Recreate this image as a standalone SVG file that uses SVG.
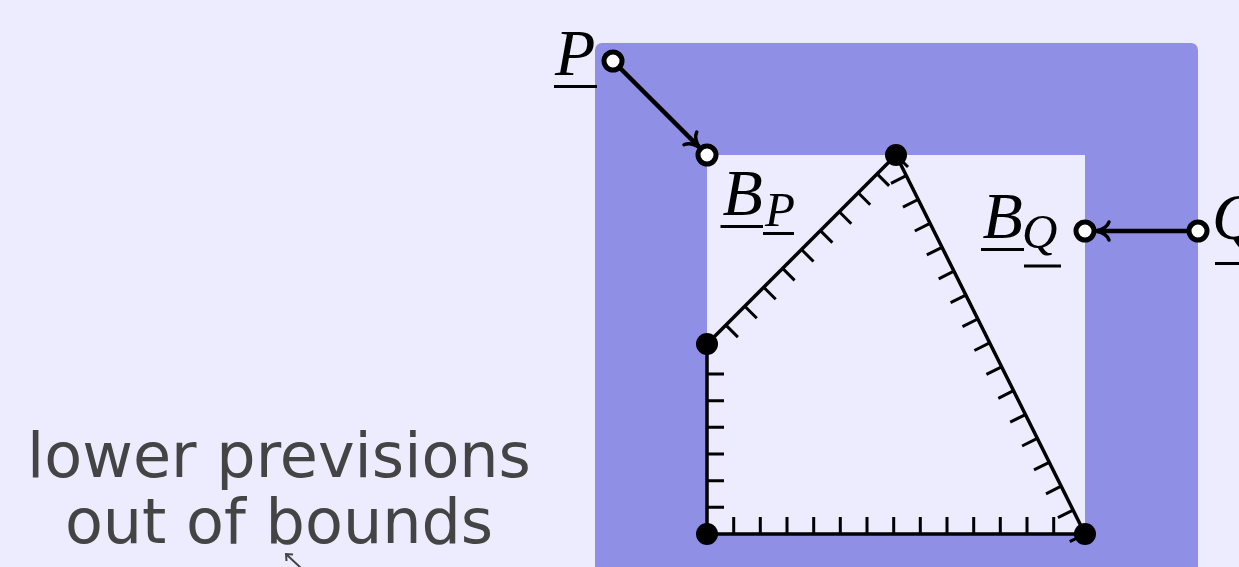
<svg xmlns="http://www.w3.org/2000/svg" width="1239" height="567" viewBox="0 0 1239 567">
  <defs>
    <style>
      .lbl { font-family: "Liberation Serif", "Times New Roman", serif; font-style: italic; fill: #000; }
      .ul { stroke: #000; stroke-width: 3; }
      .tick { stroke: #000; stroke-width: 3; fill: none; }
      .edge { stroke: #000; stroke-width: 3.5; fill: none; stroke-linejoin: round; }
      .open { fill: #fff; stroke: #000; stroke-width: 5; }
      .dot { fill: #000; }
      .conn { stroke: #000; stroke-width: 4.5; fill: none; }
      .note { font-family: "DejaVu Sans", sans-serif; font-size: 62px; fill: #444; text-anchor: middle; }
    </style>
    <marker id="hook" markerUnits="userSpaceOnUse" markerWidth="30" markerHeight="30" refX="0" refY="0" viewBox="-15 -15 30 30" orient="auto" overflow="visible">
      <path d="M-12,-9 C-10,-3 -4,-1 1,0 C-4,1 -10,3 -12,9" fill="none" stroke="#000" stroke-width="3.5" stroke-linecap="round"/>
    </marker>
  </defs>

  <rect x="0" y="0" width="1239" height="567" fill="#EDEBFE"/>

  <g id="bounds">
    <rect x="595" y="43" width="603" height="560" rx="7" fill="#8F8FE6"/>
    <rect x="707" y="155" width="378" height="379" fill="#EDEBFE"/>
  </g>

  <g id="polygon">
    <path class="tick" d="M733.7 534v-17M760.3 534v-17M787 534v-17M813.7 534v-17M840.3 534v-17M867 534v-17M893.7 534v-17M920.3 534v-17M947 534v-17M973.7 534v-17M1000.3 534v-17M1027 534v-17M1053.7 534v-17"/>
    <path class="tick" d="M707 507.3h17M707 480.7h17M707 454h17M707 427.3h17M707 400.7h17M707 374h17"/>
    <path class="tick" d="M725.9 325.1l12 12M744.8 306.2l12 12M763.7 287.3l12 12M782.6 268.4l12 12M801.5 249.5l12 12M820.4 230.6l12 12M839.3 211.7l12 12M858.2 192.8l12 12M877.1 173.9l12 12M896 155l12 12"/>
    <path class="tick" d="M1085 534l-15.2 7.6M1073.1 510.1l-15.2 7.6M1061.2 486.2l-15.2 7.6M1049.2 462.3l-15.2 7.6M1037.3 438.4l-15.2 7.6M1025.4 414.6l-15.2 7.6M1013.5 390.7l-15.2 7.6M1001.6 366.8l-15.2 7.6M989.6 342.9l-15.2 7.6M977.7 319l-15.2 7.6M965.8 295.1l-15.2 7.6M953.9 271.2l-15.2 7.6M942 247.3l-15.2 7.6M930 223.4l-15.2 7.6M918.1 199.5l-15.2 7.6M906.2 175.7l-15.2 7.6"/>
    <path class="edge" d="M707 344L896 155L1085 534L707 534Z"/>
  </g>

  <g id="connectors">
    <line class="conn" x1="613" y1="61" x2="698.9" y2="146.9" marker-end="url(#hook)"/>
    <line class="conn" x1="1198" y1="231" x2="1097" y2="231" marker-end="url(#hook)"/>
    <path d="M302 569L286 554M293 554.5L286 554L286.5 561" fill="none" stroke="#444" stroke-width="2"/>
  </g>

  <g id="v1"><circle class="dot" cx="707" cy="344" r="11"/></g>
  <g id="v2"><circle class="dot" cx="896" cy="155" r="11"/></g>
  <g id="v3"><circle class="dot" cx="1085" cy="534" r="11"/></g>
  <g id="v4"><circle class="dot" cx="707" cy="534" r="11"/></g>

  <g id="P">
    <circle class="open" cx="613" cy="61" r="9"/>
    <text class="lbl" x="555" y="75" font-size="66">P</text>
    <line class="ul" x1="554" y1="86.5" x2="597" y2="86.5"/>
  </g>

  <g id="BP">
    <circle class="open" cx="707" cy="155" r="9"/>
    <text class="lbl" x="722.5" y="215" font-size="66">B</text>
    <text class="lbl" x="765" y="226" font-size="49">P</text>
    <line class="ul" x1="720.5" y1="226.5" x2="763" y2="226.5"/>
    <line class="ul" x1="763" y1="233.5" x2="794" y2="233.5" stroke-width="2.5"/>
  </g>

  <g id="BQ">
    <circle class="open" cx="1085" cy="231" r="9"/>
    <text class="lbl" x="982.5" y="238" font-size="66">B</text>
    <text class="lbl" x="1022" y="248" font-size="49">Q</text>
    <line class="ul" x1="981" y1="249.5" x2="1024" y2="249.5"/>
    <line class="ul" x1="1024" y1="266" x2="1061" y2="266" stroke-width="2.5"/>
  </g>

  <g id="Q">
    <circle class="open" cx="1198" cy="231" r="9"/>
    <text class="lbl" x="1212" y="239" font-size="66">Q</text>
    <line class="ul" x1="1215" y1="263.5" x2="1260" y2="263.5"/>
  </g>

  <g id="note">
    <text class="note" x="279" y="477">lower previsions</text>
    <text class="note" x="279" y="543">out of bounds</text>
  </g>
</svg>
